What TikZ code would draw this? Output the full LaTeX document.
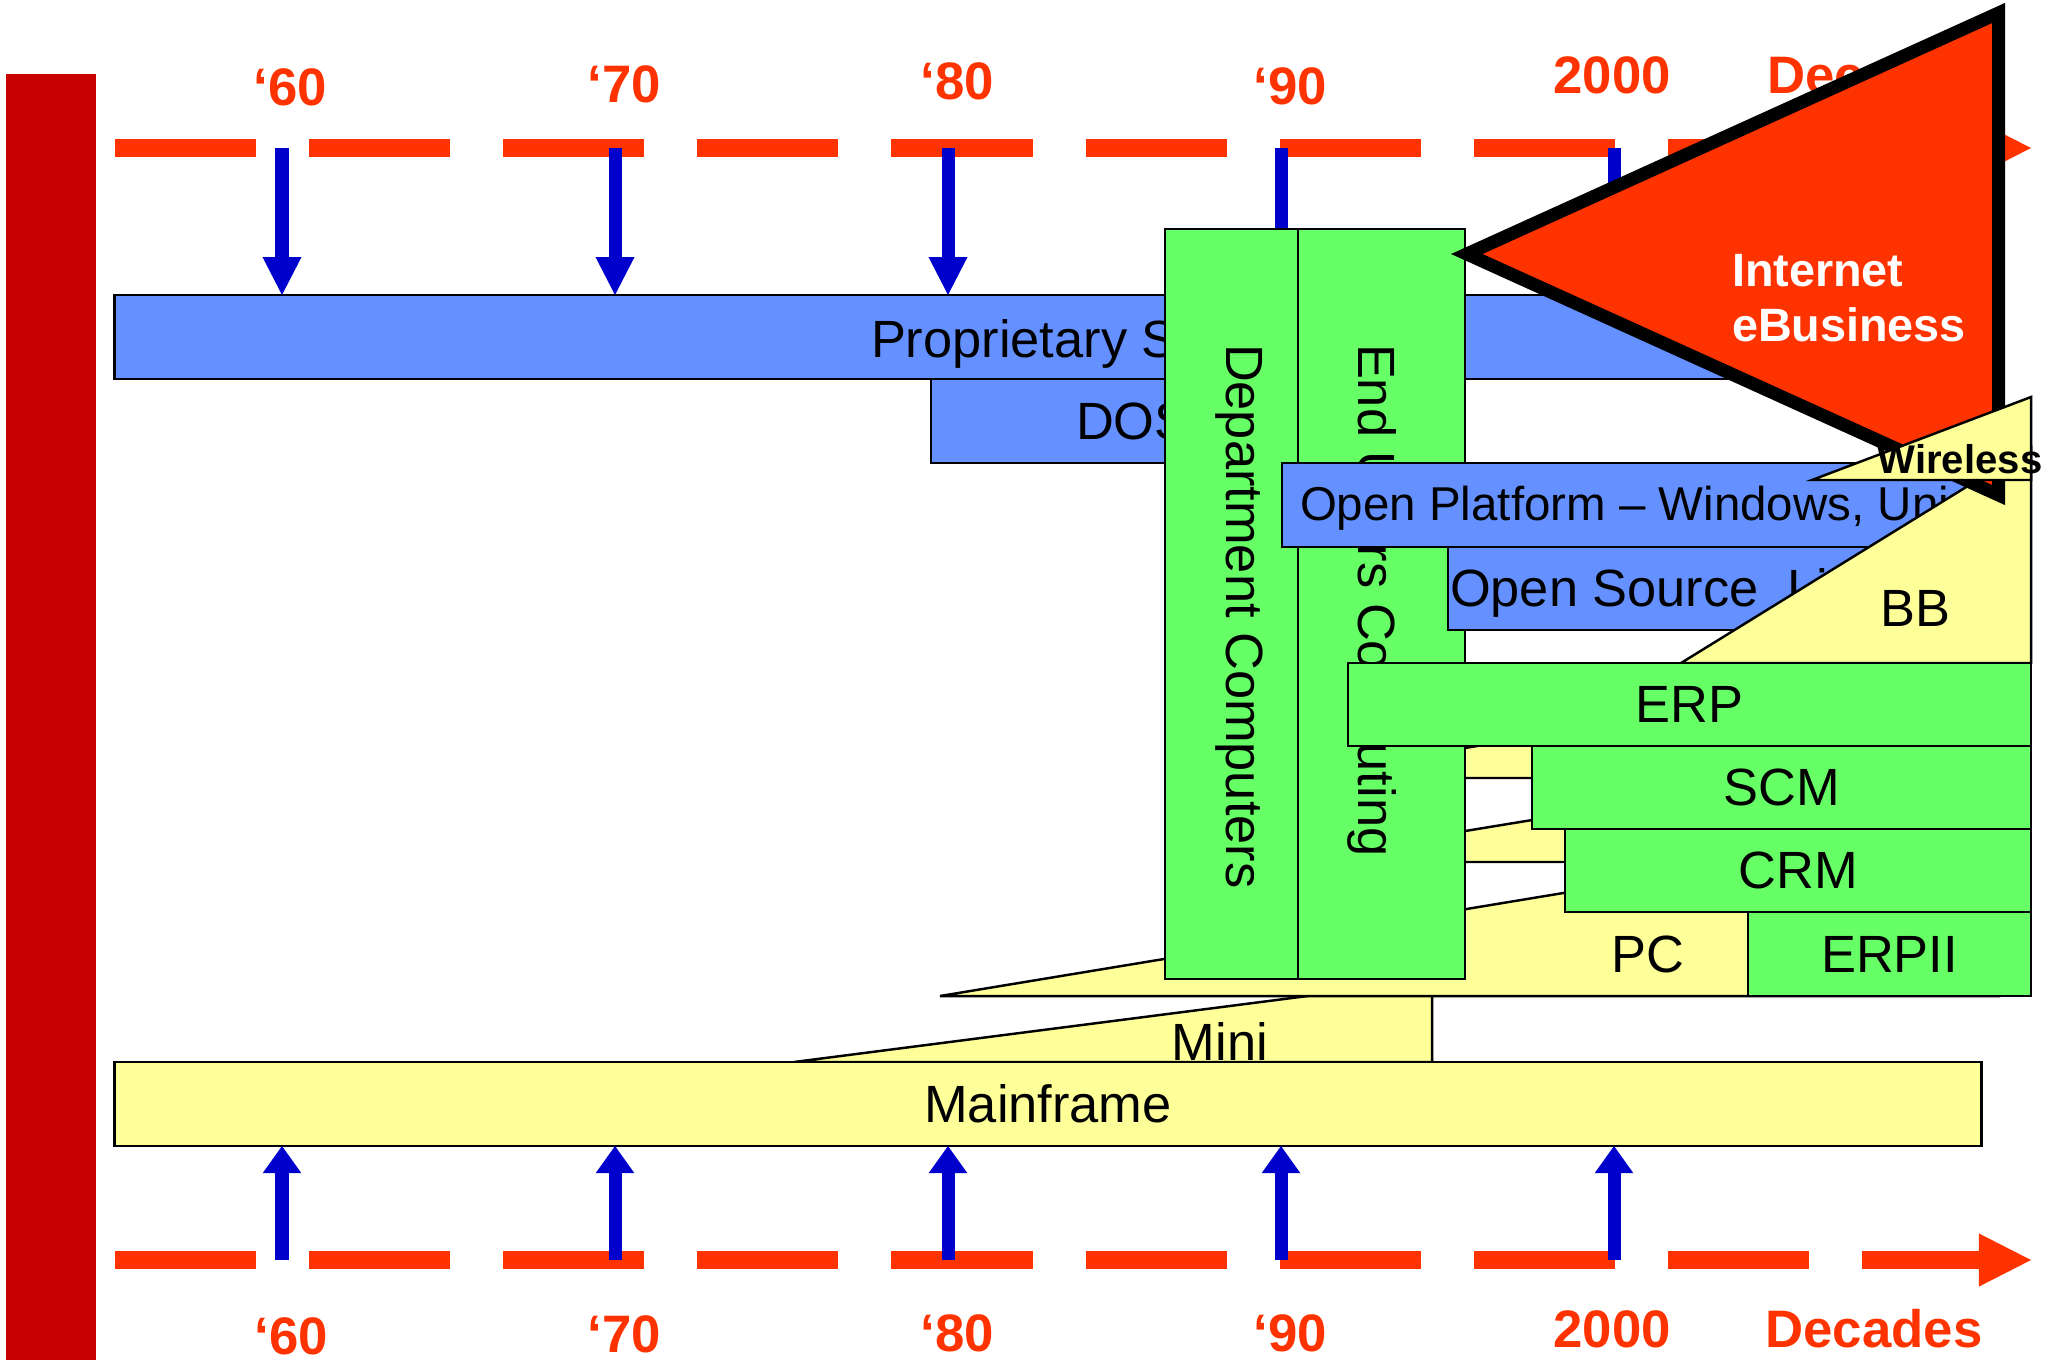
\documentclass[tikz,border=0pt]{standalone}
\usepackage{fontspec}
\setmainfont{Liberation Sans}
\usetikzlibrary{arrows.meta}
\definecolor{barred}{RGB}{200,0,0}
\definecolor{tlred}{RGB}{255,51,0}
\definecolor{arrblue}{RGB}{0,0,204}
\definecolor{pblue}{RGB}{100,145,255}
\definecolor{pgreen}{RGB}{102,255,102}
\definecolor{pyellow}{RGB}{255,255,153}
\tikzset{
  timeline/.style={line width=5.12pt, draw=tlred, dash pattern=on 1.41cm off 0.53cm,
    -{Triangle[length=14.8pt,width=15.1pt,line width=0pt]}},
  arrdown/.style={line width=3.7pt, draw=arrblue,
    -{Triangle[length=10.8pt,width=11.1pt,line width=0pt]}},
  arrup/.style={line width=3.7pt, draw=arrblue,
    -{Triangle[length=7.7pt,width=11pt,line width=0pt]}},
  boxnode/.style={draw=black, line width=0.7pt, inner sep=0pt, outer sep=0pt, rectangle,
    font=\fontsize{14.9pt}{17pt}\selectfont},
  shapeline/.style={draw=black, line width=0.7pt, line join=miter},
  txt/.style={inner sep=0pt, outer sep=0pt, font=\fontsize{14.9pt}{17pt}\selectfont},
  smalltxt/.style={inner sep=0pt, outer sep=0pt, font=\fontsize{13.5pt}{16pt}\selectfont},
  yearlbl/.style={inner sep=0pt, outer sep=0pt, text=tlred, font=\fontsize{15pt}{18pt}\selectfont\bfseries},
  ebiz/.style={inner sep=0pt, outer sep=0pt, text=white, font=\fontsize{13.3pt}{16pt}\selectfont\bfseries},
}
\begin{document}
\begin{tikzpicture}[x=0.01cm,y=-0.01cm]
\useasboundingbox (0,0) rectangle (2049,1360);
% left bar
\fill[barred] (6,74) rectangle (96,1360);

% timelines
\coordinate (ttop0) at (115,148);
\coordinate (ttop1) at (2031,148);
\coordinate (tbot0) at (115,1260);
\coordinate (tbot1) at (2031,1260);
\draw[timeline] (ttop0) -- (ttop1);
\draw[timeline] (tbot0) -- (tbot1);

% decade labels top
\node[yearlbl, anchor=base] (l60t) at (290,105) {‘60};
\node[yearlbl, anchor=base] (l70t) at (624,102) {‘70};
\node[yearlbl, anchor=base] (l80t) at (957,99) {‘80};
\node[yearlbl, anchor=base] (l90t) at (1290,104) {‘90};
\node[yearlbl, anchor=base] (l00t) at (1612,93) {2000};
\node[yearlbl, anchor=base west] (ldect) at (1767,93) {Decades};
% decade labels bottom
\node[yearlbl, anchor=base] (l60b) at (291,1354) {‘60};
\node[yearlbl, anchor=base] (l70b) at (624,1352) {‘70};
\node[yearlbl, anchor=base] (l80b) at (957,1351) {‘80};
\node[yearlbl, anchor=base] (l90b) at (1290,1351) {‘90};
\node[yearlbl, anchor=base] (l00b) at (1612,1347) {2000};
\node[yearlbl, anchor=base] (ldecb) at (1874,1347) {Decades};

% boxes: proprietary and DOS
\node[boxnode, fill=pblue, minimum width=16.85cm, minimum height=0.84cm] (prop) at (957.5,337) {};
\node[txt, anchor=base west] (propt) at (871,357) {Proprietary S};
\node[boxnode, fill=pblue, minimum width=3.69cm, minimum height=0.84cm] (dos) at (1115.5,421) {};
\node[txt, anchor=base west] (dost) at (1076,439) {DOS};

% Mini wedge and mainframe
\filldraw[shapeline, fill=pyellow] (794,1062) -- (1432,980) -- (1432,1062) -- cycle;
\node[txt, anchor=base] (minit) at (1220,1060) {Mini};
\node[boxnode, fill=pyellow, minimum width=18.66cm, minimum height=0.84cm] (main) at (1048,1104) {Mainframe};

% blue arrows
\foreach \n/\x in {a60/282,a70/615,a80/948,a90/1281,a00/1614}{
  \coordinate (\n t) at (\x,148);
  \coordinate (\n b) at (\x,1260);
  \draw[arrdown] (\n t) -- (\n t |- prop.north);
  \draw[arrup] (\n b) -- (\n b |- main.south);
}

% PC wedge and other wedges
\filldraw[shapeline, fill=pyellow] (940,996) -- (1999,821) -- (1999,996) -- cycle;
\node[txt] (pct) at (1648,954.5) {PC};
\filldraw[shapeline, fill=pyellow] (1283,778) -- (1540,735.6) -- (1540,778) -- cycle;
\filldraw[shapeline, fill=pyellow] (1276,862) -- (1570,813.8) -- (1570,862) -- cycle;

% green columns
\node[boxnode, fill=pgreen, minimum width=1.68cm, minimum height=7.5cm] (dept) at (1249,604) {};
\node[txt, anchor=base west, rotate=-90] (deptt) at (1226,344) {Department Computers};
\node[boxnode, fill=pgreen, minimum width=1.67cm, minimum height=7.5cm] (endu) at (1381.5,604) {};
\node[txt, anchor=base west, rotate=-90] (endut) at (1358,344) {End Users Computing};

% open platform / open source
\node[boxnode, fill=pblue, minimum width=7.18cm, minimum height=0.84cm] (openp) at (1641,505) {};
\node[smalltxt, anchor=base west] (openpt) at (1300,520) {Open Platform – Windows, Unix};
\node[boxnode, fill=pblue, minimum width=5.02cm, minimum height=0.83cm] (opens) at (1699,588.5) {};
\node[txt, anchor=base west] (openst) at (1450,606) {Open Source\ \ Linux};

% BB triangle
\filldraw[shapeline, fill=pyellow] (1681,663) -- (2031,447) -- (2031,663) -- cycle;
\node[txt] (bbt) at (1915,608.5) {BB};

% Internet eBusiness triangle
\filldraw[draw=black, fill=tlred, line width=3.7pt, line join=miter] (1466.8,254) -- (1998.5,13) -- (1998.5,495) -- cycle;
\node[ebiz, anchor=base west] (inet) at (1732,286) {Internet};
\node[ebiz, anchor=base west] (ebus) at (1732,341) {eBusiness};

% Wireless triangle
\filldraw[shapeline, fill=pyellow] (1812,480) -- (2031,397) -- (2031,480) -- cycle;
\node[inner sep=0pt, anchor=base west, font=\fontsize{11.4pt}{14pt}\selectfont\bfseries] (wirel) at (1877,473) {Wireless};

% application boxes
\node[boxnode, fill=pgreen, minimum width=6.83cm, minimum height=0.83cm] (erp) at (1689.5,704.5) {ERP};
\node[boxnode, fill=pgreen, minimum width=4.99cm, minimum height=0.83cm] (scm) at (1781.5,787.5) {SCM};
\node[boxnode, fill=pgreen, minimum width=4.66cm, minimum height=0.83cm] (crm) at (1798,870.5) {CRM};
\node[boxnode, fill=pgreen, minimum width=2.83cm, minimum height=0.84cm] (erpii) at (1889.5,954) {ERPII};
\end{tikzpicture}
\end{document}
